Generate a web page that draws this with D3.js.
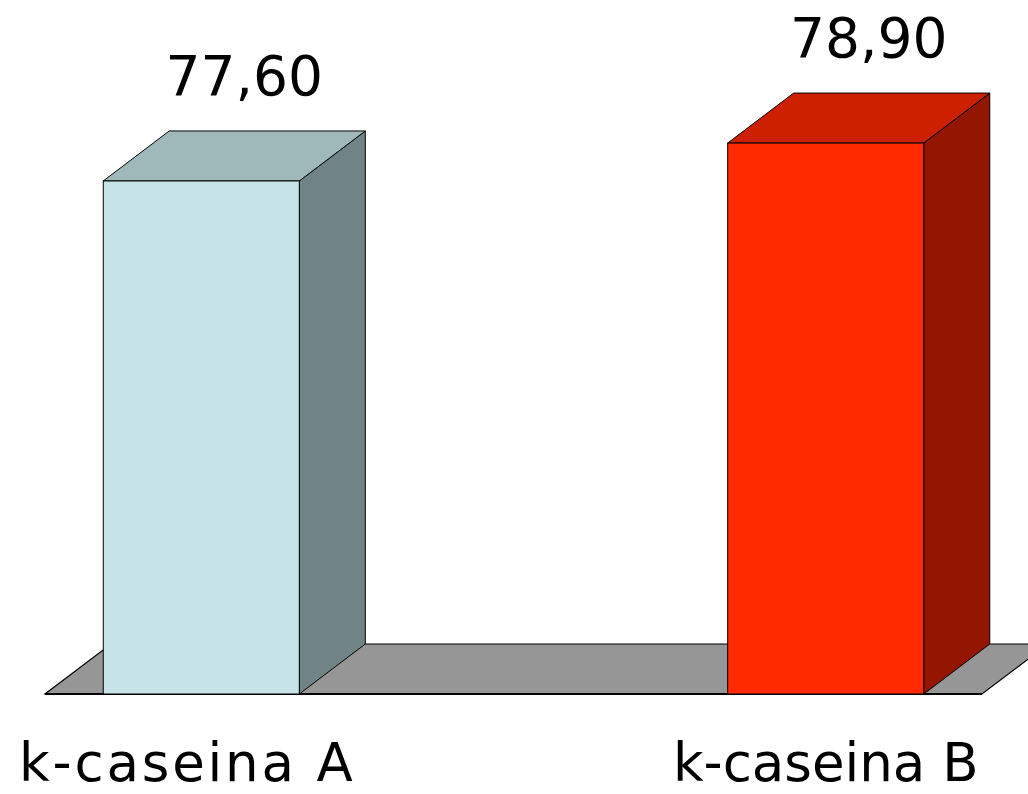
<!DOCTYPE html>
<html>
<head>
<meta charset="utf-8">
<script src="https://cdn.jsdelivr.net/npm/d3@7"></script>
<style>
  html, body { margin: 0; padding: 0; background: #fff; }
  svg { display: block; }
  text { font-family: "DejaVu Sans", Verdana, sans-serif; fill: #000; }
</style>
</head>
<body>
<svg id="chart" width="1028" height="794"></svg>
<script>
// Chart data
const categories = ["k-caseina A", "k-caseina B"];
const values = [77.60, 78.90];
const valueLabels = ["77,60", "78,90"];

// Face colours per bar: front, top, side
const frontColors = ["#C6E4E8", "#FF2A00"];
const topColors = ["#9FB8B9", "#CC2000"];
const sideColors = ["#718485", "#941600"];

const W = 1028, H = 794;
const svg = d3.select("#chart");

// Oblique depth of the 3D extrusion
const depthX = 66, depthY = -50;

const x = d3.scaleBand()
  .domain(categories)
  .range([45, 982])
  .paddingInner(0.686)
  .paddingOuter(0.0933);

const y = d3.scaleLinear()
  .domain([60, 80])
  .range([694, 694 - 20 * 29.15]);

const baseY = y(60);

// Floor (grey plate)
const floorL = 45, floorR = 982;
svg.append("polygon")
  .attr("points", [
    [floorL, baseY], [floorR, baseY],
    [floorR + depthX, baseY + depthY], [floorL + depthX, baseY + depthY]
  ].map(p => p.join(",")).join(" "))
  .attr("fill", "#969696")
  .attr("stroke", "#000")
  .attr("stroke-width", 1.2);
svg.append("line")
  .attr("x1", floorL).attr("x2", floorR)
  .attr("y1", baseY).attr("y2", baseY)
  .attr("stroke", "#000").attr("stroke-width", 2);

const bars = svg.append("g").selectAll("g")
  .data(categories.map((c, i) => ({ c, v: values[i], i })))
  .join("g");

const pts = a => a.map(p => p.join(",")).join(" ");

// side face
bars.append("polygon")
  .attr("points", d => {
    const x1 = x(d.c) + x.bandwidth(), t = y(d.v);
    return pts([[x1, baseY], [x1, t], [x1 + depthX, t + depthY], [x1 + depthX, baseY + depthY]]);
  })
  .attr("fill", d => sideColors[d.i])
  .attr("stroke", "#000").attr("stroke-width", 1).attr("stroke-linejoin", "round");

// top face
bars.append("polygon")
  .attr("points", d => {
    const x0 = x(d.c), x1 = x0 + x.bandwidth(), t = y(d.v);
    return pts([[x0, t], [x1, t], [x1 + depthX, t + depthY], [x0 + depthX, t + depthY]]);
  })
  .attr("fill", d => topColors[d.i])
  .attr("stroke", "#000").attr("stroke-width", 1).attr("stroke-linejoin", "round");

// front face
bars.append("rect")
  .attr("x", d => x(d.c))
  .attr("y", d => y(d.v))
  .attr("width", x.bandwidth())
  .attr("height", d => baseY - y(d.v))
  .attr("fill", d => frontColors[d.i])
  .attr("stroke", "#000").attr("stroke-width", 1);

// value labels above each bar
bars.append("text")
  .attr("x", d => x(d.c) + x.bandwidth() / 2 + 43)
  .attr("y", d => y(d.v) + depthY - 36)
  .attr("text-anchor", "middle")
  .attr("font-size", 55)
  .text(d => valueLabels[d.i]);

// category labels
svg.append("g").selectAll("text")
  .data(categories)
  .join("text")
  .attr("x", (d, i) => x(d) + x.bandwidth() / 2 + (i === 0 ? -14 : 0))
  .attr("y", 781)
  .attr("text-anchor", "middle")
  .attr("font-size", 53)
  .attr("letter-spacing", (d, i) => i === 0 ? 2.8 : 0)
  .text(d => d);
</script>
</body>
</html>
